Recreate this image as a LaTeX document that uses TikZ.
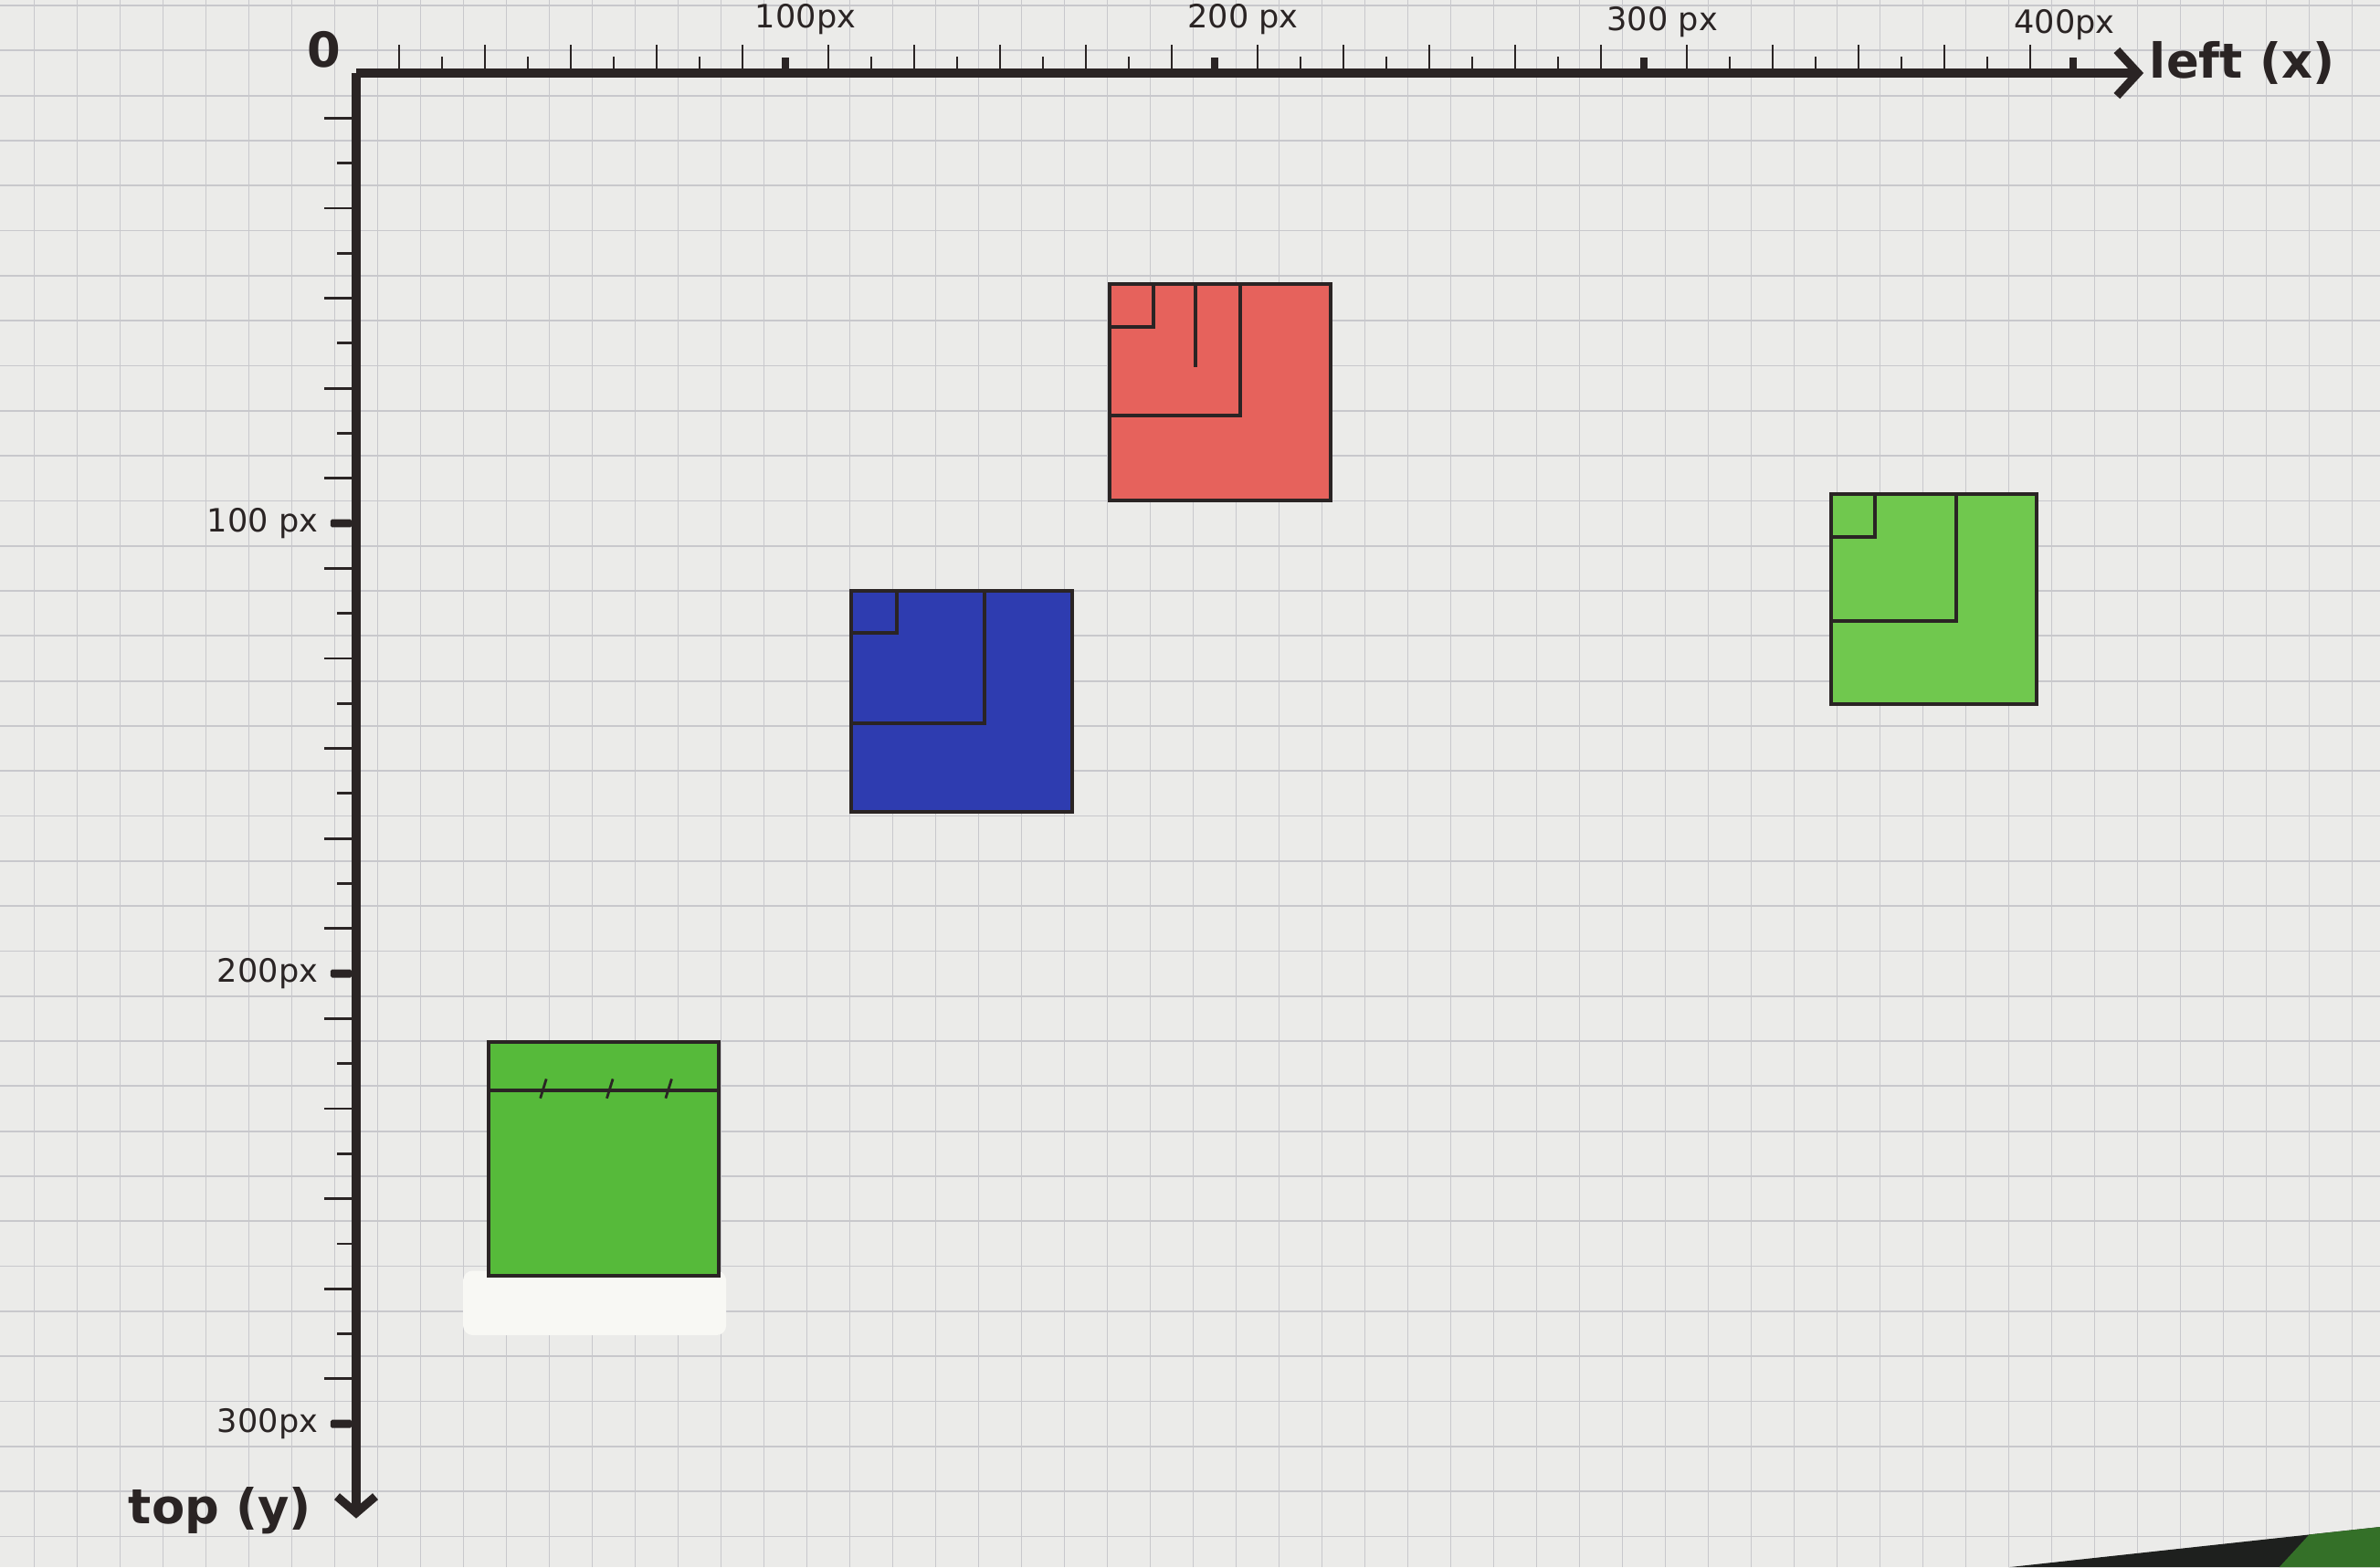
\documentclass[tikz,border=0pt]{standalone}
\usepackage{fontspec}
\setmainfont{DejaVu Sans}
\usetikzlibrary{arrows.meta}
\definecolor{paper}{RGB}{235,235,233}
\definecolor{gridline}{RGB}{200,200,204}
\definecolor{ink}{RGB}{42,36,36}
\definecolor{redbox}{RGB}{230,98,92}
\definecolor{bluebox}{RGB}{46,60,176}
\definecolor{greenbox}{RGB}{112,200,78}
\definecolor{greenleft}{RGB}{86,186,58}
\definecolor{whiteout}{RGB}{248,248,244}
\definecolor{tabletop}{RGB}{30,32,30}
\definecolor{tablegreen}{RGB}{52,112,40}

\begin{document}
\begin{tikzpicture}[x=0.047cm, y=-0.0493cm,
    axis/.style={draw=ink, line width=2.6pt},
    tickmark/.style={draw=ink, line width=0.8pt},
    boxline/.style={draw=ink, line width=1.1pt},
    ticklabel/.style={font=\fontsize{10}{11}\selectfont, text=ink, inner sep=1pt},
    axislabel/.style={font=\fontsize{15}{16}\selectfont\bfseries, text=ink, inner sep=1pt}]
    \fill[paper] (-82.98,-16.23) rectangle (471.49,331.85);
    \useasboundingbox (-82.98,-16.23) rectangle (471.49,331.85);
    \foreach \gx in {-75,-65,...,465}
        \draw[gridline, line width=0.5pt] (\gx,-16.23) -- (\gx,331.85);
    \foreach \gy in {-15,-5,...,325}
        \draw[gridline, line width=0.5pt] (-82.98,\gy) -- (471.49,\gy);
    \fill[tabletop] (385,331.85) -- (471.49,322.9) -- (471.49,331.85) -- cycle;
    \fill[tablegreen] (455,324.6) -- (471.49,322.9) -- (471.49,331.85) -- (448,331.85) -- cycle;

    \coordinate (o) at (0,0);
    \coordinate (xend) at (416.4,0);
    \coordinate (yend) at (0,321);

    \foreach \t in {10,30,...,390}
        \draw[tickmark] (\t,0) -- (\t,-6.3);
    \foreach \t in {20,40,60,80,120,140,160,180,220,240,260,280,320,340,360,380}
        \draw[tickmark] (\t,0) -- (\t,-3.6);
    \foreach \t in {100,200,300,400}
        \draw[ink, line width=2.2pt] (\t,0.5) -- (\t,-3.4);
    \foreach \t in {10,30,...,290}
        \draw[tickmark] (0,\t) -- (-7.5,\t);
    \foreach \t in {20,40,60,80,120,140,160,180,220,240,260,280}
        \draw[tickmark] (0,\t) -- (-4.5,\t);
    \foreach \t in {100,200,300}
        \fill[ink, rounded corners=0.5pt] (-6,\t-0.9) rectangle (-1,\t+0.9);

    \draw[axis, -{Straight Barb[length=2.3mm,width=5mm]}] (o) -- (xend);
    \draw[axis, -{Straight Barb[length=1.8mm,width=4.2mm]}] (o) -- (yend);

    \node[axislabel] (zero) at (-7.4,-5.3) {0};
    \node[axislabel] (leftx) at (439.4,-2.2) {left (x)};
    \node[axislabel] (topy) at (-31.7,319.3) {top (y)};
    \node[ticklabel, anchor=south] (x100) at (104.7,-7.7) {100px};
    \node[ticklabel, anchor=south] (x200) at (206.6,-7.7) {200 px};
    \node[ticklabel, anchor=south] (x300) at (304.3,-7) {300 px};
    \node[ticklabel, anchor=south] (x400) at (398,-6.5) {400px};
    \node[ticklabel, anchor=east] (y100) at (-8,100) {100 px};
    \node[ticklabel, anchor=east] (y200) at (-8,200) {200px};
    \node[ticklabel, anchor=east] (y300) at (-8,300) {300px};

    \fill[redbox] (175.5,46.9) rectangle (227,94.9);
    \draw[boxline] (175.5,46.9) rectangle (227,94.9);
    \draw[boxline] (175.5,56.4) -- (185.7,56.4) -- (185.7,46.9);
    \draw[boxline] (195.5,46.9) -- (195.5,65.3);
    \draw[boxline] (175.5,76.1) -- (206,76.1) -- (206,46.9);

    \fill[bluebox] (115.3,115) rectangle (166.8,164.1);
    \draw[boxline] (115.3,115) rectangle (166.8,164.1);
    \draw[boxline] (115.3,124.3) -- (126,124.3) -- (126,115);
    \draw[boxline] (115.3,144.4) -- (146.4,144.4) -- (146.4,115);

    \fill[greenbox] (343.6,93.5) rectangle (391.5,140.2);
    \draw[boxline] (343.6,93.5) rectangle (391.5,140.2);
    \draw[boxline] (343.6,103) -- (353.8,103) -- (353.8,93.5);
    \draw[boxline] (343.6,121.7) -- (372.8,121.7) -- (372.8,93.5);

    \fill[whiteout, rounded corners=3pt] (24.9,266) rectangle (86.2,280.3);
    \fill[greenleft] (30.9,215.2) rectangle (84.5,267.1);
    \draw[boxline] (30.9,215.2) rectangle (84.5,267.1);
    \draw[boxline] (30.9,226) -- (84.5,226);
    \foreach \m in {43.6,59.1,72.8}
        \draw[tickmark] (\m+0.7,223.4) -- (\m-0.7,227.7);
\end{tikzpicture}
\end{document}
